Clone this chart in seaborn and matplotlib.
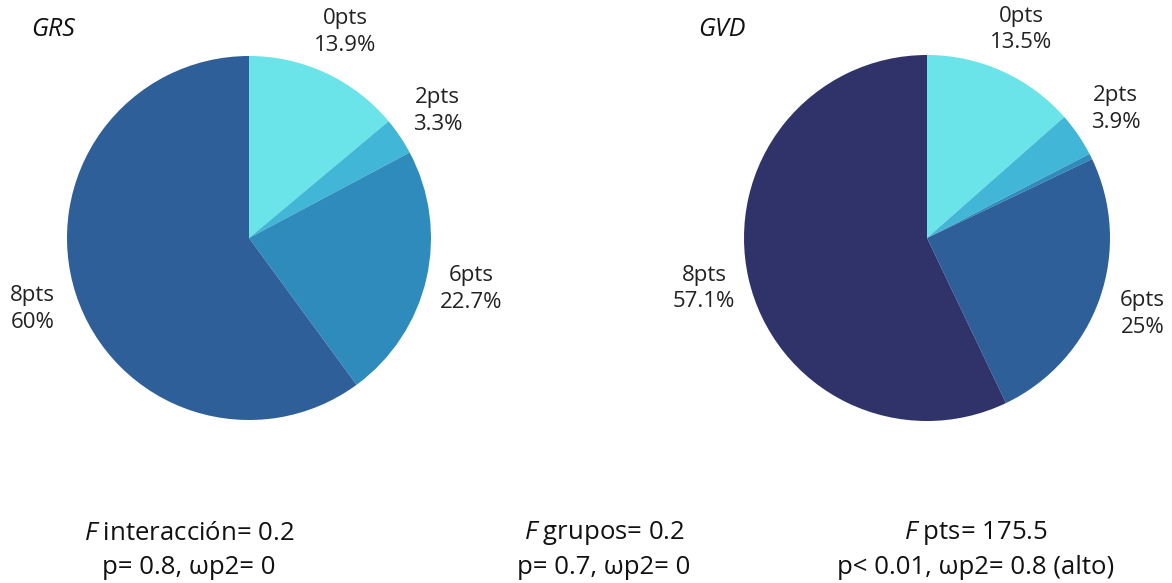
import matplotlib
matplotlib.use("Agg")
import matplotlib.pyplot as plt
import seaborn as sns
import numpy as np

# Data
grs_labels = ["0pts", "2pts", "6pts", "8pts"]
grs_values = [13.9, 3.3, 22.7, 60.0]
grs_pct = ["13.9%", "3.3%", "22.7%", "60%"]
grs_colors = ["#6AE3E9", "#41B6D6", "#2E8BBB", "#2E5F98"]

gvd_labels = ["0pts", "2pts", "4pts", "6pts", "8pts"]
gvd_values = [13.5, 3.9, 0.5, 25.0, 57.1]
gvd_pct = ["13.5%", "3.9%", "", "25%", "57.1%"]
gvd_colors = ["#6AE3E9", "#41B6D6", "#2E8BBB", "#2E5F98", "#30336A"]

stats_top = [r"$\mathit{F}$ interacción= 0.2", r"$\mathit{F}$ grupos= 0.2", r"$\mathit{F}$ pts= 175.5"]
stats_bottom = ["p= 0.8, ωp2= 0", "p= 0.7, ωp2= 0", "p< 0.01, ωp2= 0.8 (alto)"]

sns.set_theme(style="white")
plt.rcParams["font.family"] = ["Open Sans", "DejaVu Sans"]
plt.rcParams["mathtext.fontset"] = "custom"
plt.rcParams["mathtext.it"] = "Open Sans:italic"
plt.rcParams["mathtext.rm"] = "Open Sans"

fig = plt.figure(figsize=(11.72, 5.83), dpi=100)
W, H = 1172, 583

def add_pie(cx, cy, r, values, labels, pcts, colors, title, tx):
    ax = fig.add_axes([(cx - r) / W, (H - cy - r) / H, 2 * r / W, 2 * r / H])
    texts_lbl = [f"{l}\n{p}" if p else "" for l, p in zip(labels, pcts)]
    wedges, texts = ax.pie(values, colors=colors, startangle=90, counterclock=False,
                           labels=texts_lbl, labeldistance=1.25,
                           wedgeprops=dict(linewidth=0),
                           textprops=dict(fontsize=16, color="#222222", linespacing=1.35))
    for t in texts:
        t.set_ha("center")
        t.set_va("center")
        t.set_multialignment("center")
        t.set_clip_on(False)
    ax.set_xlim(-1, 1)
    ax.set_ylim(-1, 1)
    ax.set_aspect("equal")
    ax.axis("off")
    fig.text(tx / W, 1 - 29 / H, title, fontsize=18, style="italic", ha="left", va="center",
             color="#111111")
    return ax

add_pie(249, 238, 182, grs_values, grs_labels, grs_pct, grs_colors, "GRS", 31)
add_pie(927, 238, 183, gvd_values, gvd_labels, gvd_pct, gvd_colors, "GVD", 698)

for xc, t1, t2 in zip([189, 604, 976], stats_top, stats_bottom):
    fig.text(xc / W, 1 - 533 / H, t1, fontsize=18.5, ha="center", va="center", color="#111111")
    fig.text(xc / W, 1 - 567 / H, t2, fontsize=18.5, ha="center", va="center", color="#111111")

fig.savefig("out.png", dpi=100, facecolor="white")
